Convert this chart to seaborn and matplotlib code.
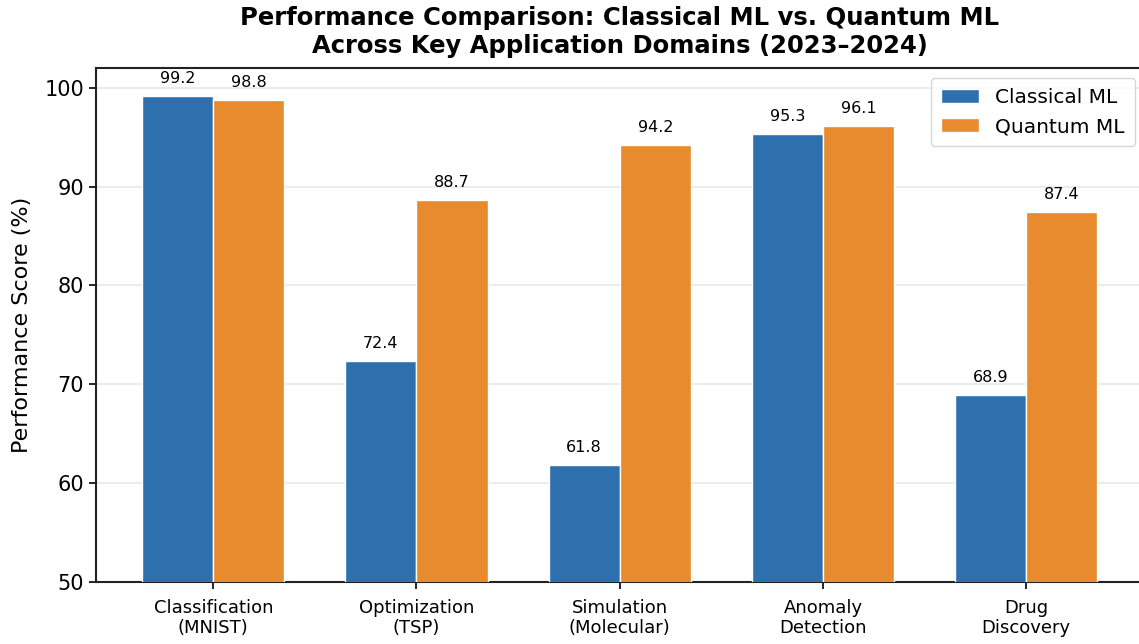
import pandas as pd
import matplotlib.pyplot as plt
import seaborn as sns

DOMAINS = ['Classification\n(MNIST)', 'Optimization\n(TSP)', 'Simulation\n(Molecular)',
           'Anomaly\nDetection', 'Drug\nDiscovery']
CLASSICAL = [99.2, 72.4, 61.8, 95.3, 68.9]
QUANTUM = [98.8, 88.7, 94.2, 96.1, 87.4]
METHODS = ['Classical ML', 'Quantum ML']
COLORS = ['#2e6fad', '#e88a2e']


def build_frame():
    rows = []
    for d, c, q in zip(DOMAINS, CLASSICAL, QUANTUM):
        rows.append({'domain': d, 'method': METHODS[0], 'score': c})
        rows.append({'domain': d, 'method': METHODS[1], 'score': q})
    return pd.DataFrame(rows)


def plot_comparison(df):
    sns.set_style("ticks", {'text.color': 'black', 'axes.labelcolor': 'black',
                            'xtick.color': 'black', 'ytick.color': 'black'})
    plt.rcParams['font.family'] = ['DejaVu Sans']
    fig = plt.figure(figsize=(11.39, 6.44), dpi=100)
    ax = fig.add_axes([0.0843, 0.0963, 0.921, 0.798])
    sns.barplot(data=df, x='domain', y='score', hue='method', order=DOMAINS,
                hue_order=METHODS, palette=COLORS, width=0.7, saturation=1,
                edgecolor='white', linewidth=1, errorbar=None, ax=ax, zorder=3)

    for container in ax.containers:
        for bar in container:
            h = bar.get_height()
            ax.text(bar.get_x() + bar.get_width() / 2, h + 1.0, f"{h:.1f}",
                    ha='center', va='bottom', fontsize=11.5, zorder=4)

    ax.set_ylim(50, 102)
    ax.set_xlim(-0.577, 4.585)
    ax.set_yticks([50, 60, 70, 80, 90, 100])
    ax.tick_params(axis='y', labelsize=15, width=1.2, length=5)
    ax.tick_params(axis='x', labelsize=13, width=1.2, length=5, pad=7)
    ax.set_xlabel('')
    ax.set_ylabel('Performance Score (%)', fontsize=16, labelpad=9)
    ax.grid(axis='y', color='#dddddd', linewidth=1.2, alpha=0.7, zorder=0)
    for side in ['left', 'bottom', 'top', 'right']:
        ax.spines[side].set_linewidth(1.5)
        ax.spines[side].set_color('#222222')

    ax.legend(loc='upper right', fontsize=14.5, frameon=True, borderpad=0.5,
              handlelength=1.9, handleheight=0.7)
    fig.suptitle('Performance Comparison: Classical ML vs. Quantum ML\n'
                 'Across Key Application Domains (2023\u20132024)',
                 fontsize=17.5, fontweight='bold', x=0.544, y=0.99, va='top')
    fig.savefig('out.png', dpi=100)


if __name__ == "__main__":
    df = build_frame()
    plot_comparison(df)
